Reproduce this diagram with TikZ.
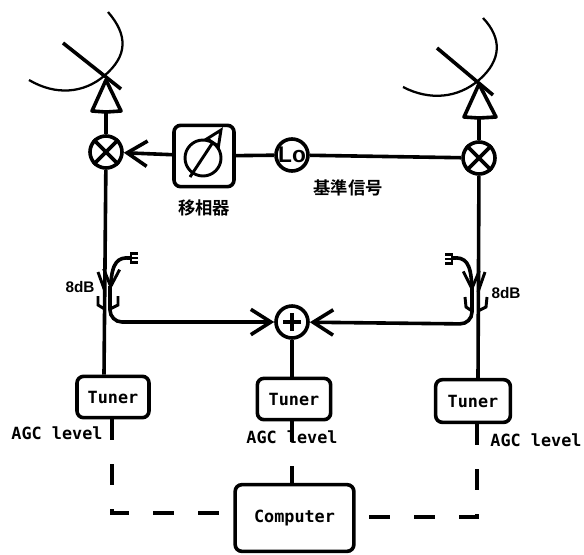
\documentclass[tikz,border=0pt]{standalone}
\usepackage{fontspec}
\setmonofont{DejaVu Sans Mono Bold}
\setsansfont{Liberation Sans}
\newfontfamily\cjkfont{Noto Sans CJK JP Bold}
\usetikzlibrary{arrows.meta}
\tikzset{every picture/.style={line width=2.7pt},
  unitbox/.style={draw,rounded corners=5pt,inner sep=0pt,font=\ttfamily\fontsize{12.6}{14}\selectfont},
  ringnode/.style={draw,circle,inner sep=0pt,minimum size=24pt,fill=white},
  tagtext/.style={inner sep=0.75pt,font=\ttfamily\fontsize{12.6}{14}\selectfont},
  dbtext/.style={inner sep=0.75pt,font=\sffamily\bfseries\fontsize{11.5}{13}\selectfont},
  cjktext/.style={inner sep=0.75pt,font=\cjkfont\fontsize{13}{15}\selectfont},
  feedline/.style={-{Straight Barb[length=15pt,width=19pt,line width=2.7pt]}},
  couplerline/.style={-{Straight Barb[length=13pt,width=12pt,line width=2.2pt]}},
  thinstroke/.style={line width=2.2pt},
  plugstroke/.style={line width=2.2pt},
  dishcurve/.style={line width=1.7pt},
  ctrlline/.style={dash pattern={on 15.75pt off 18pt}}
}
\begin{document}
\begin{tikzpicture}[x=0.75pt,y=0.75pt,yscale=-1,xscale=1]
        \useasboundingbox (0,0) rectangle (584,554);
        % Nodes
        \node (mixL) [ringnode] at (106,152) {};
        \node (mixR) [ringnode] at (479,158) {};
        \node (phase) [unitbox,minimum width=45pt,minimum height=46pt] at (204,156) {};
        \node (osc) [ringnode,font=\sffamily\bfseries\fontsize{17}{17}\selectfont] at (292,155) {Lo};
        \node (sum) [ringnode] at (292,322) {};
        \node (tunerL) [unitbox,minimum width=54pt,minimum height=31pt] at (113,397) {Tuner};
        \node (tunerM) [unitbox,minimum width=55pt,minimum height=31pt] at (294,399) {Tuner};
        \node (tunerR) [unitbox,minimum width=56pt,minimum height=32pt] at (473,401) {Tuner};
        \node (comp) [unitbox,minimum width=89pt,minimum height=50pt] at (294.5,518) {Computer};
        \coordinate (ampL) at (106,112);
        \coordinate (ampR) at (479,118);
        \coordinate (cornerL) at (112,513);
        \coordinate (cornerR) at (477,517);
        % Dishes
        \draw [dishcurve] (29,80) .. controls (56,96) and (84,93) .. (104,76) .. controls (128,56) and (128,35) .. (108,12) ;
        \draw (63,43) -- (121,89) ;
        \draw [dishcurve] (403,87) .. controls (430,101) and (458,98) .. (479,80) .. controls (502,60) and (502,38) .. (483,18) ;
        \draw (437,48) -- (493,95) ;
        % Amplifiers
        \draw [line join=round] (ampL) -- (92,111) -- (106,80) -- (121,111) -- cycle ;
        \draw [line join=round] (ampR) -- (464,117) -- (479,84) -- (496,117) -- cycle ;
        \draw (mixL) -- (ampL) ;
        \draw (mixR) -- (ampR) ;
        % Mixer crosses
        \draw (mixL.north west) -- (mixL.south east) (mixL.north east) -- (mixL.south west) ;
        \draw (mixR.north west) -- (mixR.south east) (mixR.north east) -- (mixR.south west) ;
        % Phase shifter
        \draw [thinstroke] (203,158) circle [radius=18] ;
        \draw [thinstroke,-{Triangle[open,length=15pt,width=13pt,line width=2.2pt]}] (190,177) -- (223,127) ;
        % Reference line
        \draw [feedline] (phase) -- (mixL) ;
        \draw (phase) -- (osc) ;
        \draw (osc) -- (mixR) ;
        % Through lines
        \draw (mixL) -- (tunerL.north -| 104,0) ;
        \draw (mixR) -- (tunerR.north -| 478,0) ;
        \draw (sum) -- (tunerM.north -| sum) ;
        % Couplers
        \draw [couplerline] (130,258) .. controls (118,257) and (112,262) .. (110.5,290) ;
        \draw [thinstroke] (98,272) -- (104.5,290) ;
        \draw [thinstroke] (98,296) -- (98,305) -- (104.5,309) (118,296) -- (118,305) -- (110,309) ;
        \draw [plugstroke] (130,253.5) -- (138,253.5) (130,258) -- (138,258) (130,262.5) -- (138,262.5) ;
        \draw [thinstroke] (131,252) -- (131,264) ;
        \draw [feedline,rounded corners=9pt] (110,286) -- (110,322) -- (sum) ;
        \draw [couplerline] (453,258) .. controls (465,257) and (471,262) .. (472,292) ;
        \draw [thinstroke] (485,272) -- (478,292) ;
        \draw [thinstroke] (465,297) -- (466,307) -- (472,311) (487,297) -- (486,307) -- (478,311) ;
        \draw [plugstroke] (445,254.5) -- (453,254.5) (445,259) -- (453,259) (445,263.5) -- (453,263.5) ;
        \draw [thinstroke] (452,253) -- (452,265) ;
        \draw [feedline,rounded corners=9pt] (472,288) -- (472,324) -- (sum) ;
        % Sum
        \draw [line width=3.2pt] (sum.center) ++(0,-9) -- ++(0,18) (sum.center) ++(-9,0) -- ++(18,0) ;
        % Control lines
        \draw [ctrlline] (tunerL.south -| cornerL) -- (cornerL) -- (comp.west |- cornerL) ;
        \draw [ctrlline] (tunerM.south -| sum) -- (comp.north -| sum) ;
        \draw [ctrlline] (tunerR.south -| cornerR) -- (cornerR) -- (comp.east |- cornerR) ;
        % Text Node
        \node (agcL) [tagtext] at (57,433) {AGC level};
        \node (agcM) [tagtext] at (292,437) {AGC level};
        \node (agcR) [tagtext] at (536,440) {AGC level};
        \node (gainL) [dbtext] at (80,287) {8dB};
        \node (gainR) [dbtext] at (506,293) {8dB};
        \node (phaseLabel) [cjktext] at (204,208) {移相器};
        \node (refLabel) [cjktext] at (348,188) {基準信号};
\end{tikzpicture}
\end{document}
